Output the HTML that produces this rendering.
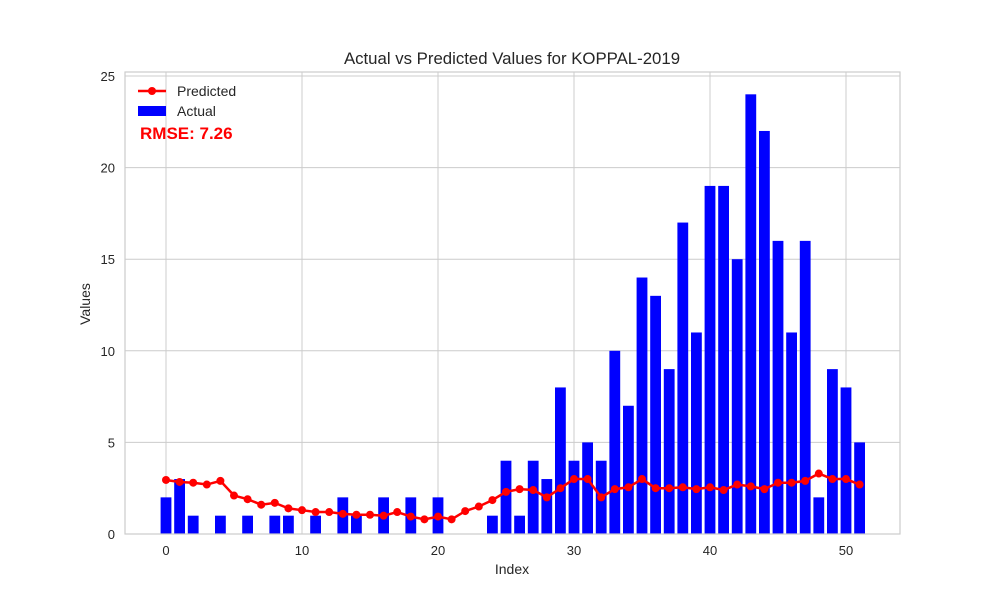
<!DOCTYPE html>
<html><head><meta charset="utf-8"><style>
body{margin:0;background:#fff;font-family:"Liberation Sans","DejaVu Sans",sans-serif;}
</style></head><body>
<svg id="chart" width="1000" height="600" xmlns="http://www.w3.org/2000/svg"></svg>
<script>
const indices = Array.from({length:52},(_,i)=>i);
const actualValues = [2,3,1,0,1,0,1,0,1,1,0,1,0,2,1,0,2,0,2,0,2,0,0,0,1,4,1,4,3,8,4,5,4,10,7,14,13,9,17,11,19,19,15,24,22,16,11,16,2,9,8,5];
const predictedValues = [2.95,2.84,2.8,2.7,2.9,2.1,1.9,1.6,1.7,1.4,1.3,1.2,1.2,1.1,1.05,1.05,1.0,1.2,0.95,0.8,0.95,0.8,1.25,1.5,1.85,2.3,2.45,2.4,2.0,2.5,3.0,3.0,2.0,2.45,2.55,3.0,2.5,2.5,2.55,2.45,2.55,2.4,2.7,2.6,2.45,2.8,2.8,2.9,3.3,3.0,3.0,2.7];
const xTicks = [0,10,20,30,40,50];
const yTicks = [0,5,10,15,20,25];
const rmseText = "RMSE: 7.26";

const svg = document.getElementById('chart');
const NS = "http://www.w3.org/2000/svg";
const L=125,R=900,T=72,B=534;
const xs = v => 166 + v*13.6;
const ys = v => 534 - v*18.32;
function mk(tag, attrs, parent){const e=document.createElementNS(NS,tag);for(const k in attrs)e.setAttribute(k,attrs[k]);(parent||svg).appendChild(e);return e;}

const bg = mk('rect',{x:L,y:T,width:R-L,height:B-T,fill:'#fff'});



xTicks.forEach(t=>{
  const g=mk('line',{x1:xs(t),x2:xs(t),y1:T,y2:B,stroke:'#cccccc','stroke-width':1});
  
  
  const lb=mk('text',{x:xs(t),y:555,'text-anchor':'middle','font-size':13,fill:'#262626'});lb.textContent=t;
  
  
});
yTicks.forEach(t=>{
  const g=mk('line',{x1:L,x2:R,y1:ys(t),y2:ys(t),stroke:'#cccccc','stroke-width':1});
  
  
  const lb=mk('text',{x:115,y:ys(t)+5,'text-anchor':'end','font-size':13,fill:'#262626'});lb.textContent=t;
  
  
});

indices.forEach((i,k)=>{
  const v=actualValues[k];
  const b=mk('rect',{x:xs(i)-5.4,y:ys(v),width:10.8,height:ys(0)-ys(v),fill:'#0000ff'});
  
  
});

const pts=indices.map((i,k)=>xs(i)+','+ys(predictedValues[k])).join(' ');
const pl=mk('polyline',{points:pts,fill:'none',stroke:'#ff0000','stroke-width':2.5});


indices.forEach((i,k)=>{
  const c=mk('circle',{cx:xs(i),cy:ys(predictedValues[k]),r:4,fill:'#ff0000'});
  
  
});

const frame=mk('rect',{x:L,y:T,width:R-L,height:B-T,fill:'none',stroke:'#cccccc','stroke-width':1.2});



const title=mk('text',{x:512,y:64,'text-anchor':'middle','font-size':16.8,fill:'#262626'});title.textContent='Actual vs Predicted Values for KOPPAL-2019';


const xt=mk('text',{x:512,y:574,'text-anchor':'middle','font-size':14,fill:'#262626'});xt.textContent='Index';


const yt=mk('text',{x:90,y:304,'text-anchor':'middle','font-size':14,fill:'#262626',transform:'rotate(-90 90 304)'});yt.textContent='Values';



const lg=mk('g',{});


mk('line',{x1:138,x2:166,y1:91,y2:91,stroke:'#ff0000','stroke-width':2.5},lg);
mk('circle',{cx:152,cy:91,r:4,fill:'#ff0000'},lg);
const t1=mk('text',{x:177,y:96,'font-size':14,fill:'#262626'},lg);t1.textContent='Predicted';


mk('rect',{x:138,y:106,width:28,height:10,fill:'#0000ff'},lg);
const t2=mk('text',{x:177,y:116,'font-size':14,fill:'#262626'},lg);t2.textContent='Actual';


const rm=mk('text',{x:140,y:139,'font-size':17,'font-weight':'bold',fill:'#ff0000'});rm.textContent=rmseText;


</script>
</body></html>
